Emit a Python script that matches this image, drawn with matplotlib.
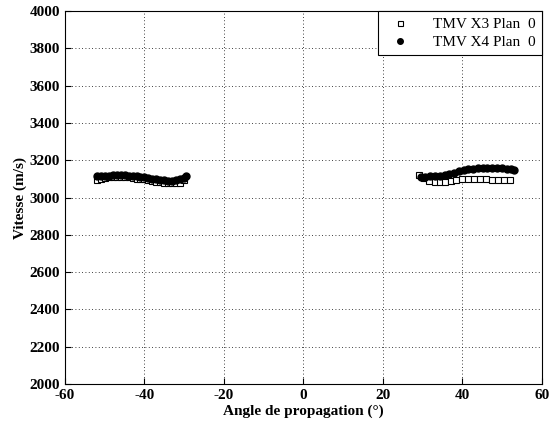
import numpy as np
import matplotlib
matplotlib.use("Agg")
import matplotlib.pyplot as plt

# TMV X3 Plan 0 (squares)
x3_left = [-52, -51, -50, -49, -48, -47, -46, -45, -44, -43, -42, -41, -40, -39,
           -38, -37, -36, -35, -34, -33, -32, -31, -30]
v3_left = [3095, 3100, 3105, 3108, 3110, 3110, 3110, 3110, 3108, 3105, 3102, 3100,
           3098, 3095, 3090, 3085, 3082, 3080, 3078, 3077, 3078, 3080, 3092]
x3_right = [29, 30.3, 31.6, 33, 34.3, 35.6, 37, 38.3, 40, 41.5, 43, 44.5, 46, 47.5,
            49, 50.5, 52]
v3_right = [3122, 3105, 3090, 3082, 3082, 3085, 3090, 3095, 3098, 3100, 3100, 3100,
            3098, 3095, 3093, 3092, 3092]

# TMV X4 Plan 0 (filled circles)
x4_left = [-52, -51, -50, -49, -48, -47, -46, -45, -44, -43, -42, -41, -40, -39,
           -38, -37, -36, -35, -34, -33, -32, -31, -30, -29.5]
v4_left = [3118, 3118, 3117, 3118, 3119, 3120, 3120, 3119, 3118, 3116, 3114, 3112,
           3108, 3105, 3102, 3098, 3095, 3092, 3090, 3090, 3092, 3097, 3105, 3115]
x4_right = [29.5, 30.7, 31.9, 33.1, 34.3, 35.5, 36.7, 37.9, 39.1, 40.3, 41.5, 42.7,
            43.9, 45.1, 46.3, 47.5, 48.7, 49.9, 51.1, 52.3, 53]
v4_right = [3112, 3112, 3113, 3115, 3117, 3120, 3125, 3132, 3140, 3147, 3152, 3155,
            3158, 3160, 3160, 3160, 3158, 3157, 3155, 3152, 3150]

plt.rcParams['font.family'] = ['Liberation Serif', 'DejaVu Serif']
plt.rcParams['axes.unicode_minus'] = False

fig = plt.figure(figsize=(5.53, 4.28), dpi=100)
ax = fig.add_axes([0.1175, 0.1028, 0.8625, 0.8712])

ax.plot(x3_left + x3_right, v3_left + v3_right, linestyle='none', marker='s',
        markersize=4.5, markerfacecolor='white', markeredgecolor='black',
        markeredgewidth=0.8, label='TMV X3 Plan  0')
ax.plot(x4_left + x4_right, v4_left + v4_right, linestyle='none', marker='o',
        markersize=5, color='black', label='TMV X4 Plan  0')

ax.set_xlim(-60, 60)
ax.set_ylim(2000, 4000)
ax.set_xticks(np.arange(-60, 61, 20))
ax.set_yticks(np.arange(2000, 4001, 200))
ax.grid(True, linestyle=(0, (1, 3)), color='black', linewidth=0.6)
ax.tick_params(direction='in', labelsize=11, length=4)
for lab in ax.get_xticklabels() + ax.get_yticklabels():
    lab.set_fontweight('bold')

ax.set_xlabel('Angle de propagation (°)', fontsize=11, fontweight='bold', labelpad=2)
ax.set_ylabel('Vitesse (m/s)', fontsize=11, fontweight='bold', labelpad=2)

leg = ax.legend(loc='upper right', fontsize=11, fancybox=False, framealpha=1,
                edgecolor='black', borderaxespad=0, handletextpad=1.2,
                borderpad=0.4, labelspacing=0.3, markerscale=0.8)
leg.get_frame().set_linewidth(0.8)

fig.savefig('out.png', dpi=100)
